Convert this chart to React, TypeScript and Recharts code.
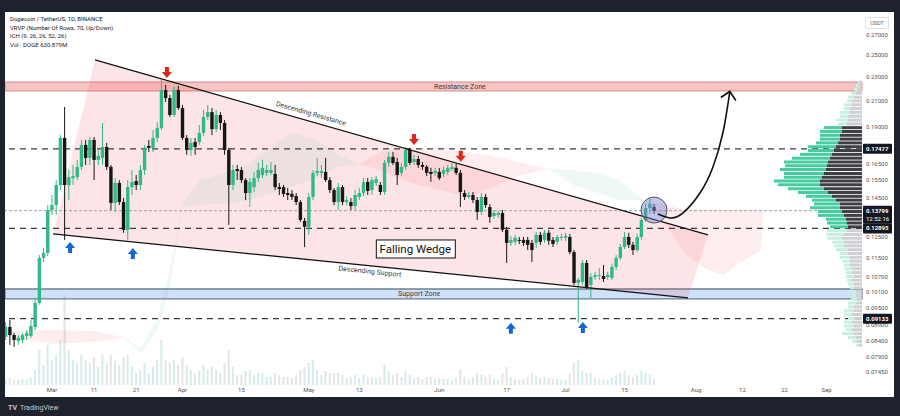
import React from 'react'
import {
  ComposedChart,
  BarChart,
  Bar,
  Cell,
  Area,
  Line,
  XAxis,
  YAxis,
  ReferenceLine,
  ReferenceArea,
  ReferenceDot,
} from 'recharts'

// days are counted from Mar 1 (day 0)
const FIRST_DAY = -11

// daily candles [open, high, low, close], DOGE/USDT
const ohlc: [number, number, number, number][] = [
  [0.0852, 0.0902, 0.0842, 0.0885], [0.0885, 0.0909, 0.0826, 0.0858], [0.0858, 0.0865, 0.082, 0.0842],
  [0.0839, 0.0858, 0.0826, 0.0849], [0.0842, 0.0865, 0.0832, 0.0858], [0.0855, 0.0875, 0.0842, 0.0865],
  [0.0855, 0.0909, 0.0849, 0.0888], [0.0885, 0.0989, 0.0875, 0.097], [0.097, 0.1165, 0.0963, 0.1152],
  [0.1152, 0.1196, 0.1134, 0.1174], [0.1174, 0.141, 0.1161, 0.1383], [0.1383, 0.1465, 0.1358, 0.141],
  [0.141, 0.1551, 0.1358, 0.1522], [0.1522, 0.1842, 0.1493, 0.1822], [0.1822, 0.2051, 0.1234, 0.1522],
  [0.1522, 0.1612, 0.1437, 0.1569], [0.1563, 0.1643, 0.1522, 0.1575], [0.1569, 0.1675, 0.1551, 0.1631],
  [0.1631, 0.1808, 0.1612, 0.1774], [0.1774, 0.1808, 0.1643, 0.1688], [0.1688, 0.1828, 0.1643, 0.1808],
  [0.1808, 0.1828, 0.1551, 0.1675], [0.1675, 0.174, 0.1643, 0.1701], [0.1688, 0.1929, 0.1643, 0.176],
  [0.176, 0.1788, 0.1612, 0.1631], [0.1631, 0.1643, 0.1383, 0.1421], [0.1421, 0.1563, 0.1373, 0.1534],
  [0.1534, 0.1551, 0.141, 0.1426], [0.1426, 0.1448, 0.1268, 0.1282], [0.1282, 0.1551, 0.1234, 0.151],
  [0.151, 0.1612, 0.1465, 0.154], [0.1545, 0.1581, 0.1493, 0.1522], [0.1522, 0.1643, 0.1493, 0.1612],
  [0.1612, 0.1774, 0.1581, 0.1754], [0.1767, 0.1808, 0.1727, 0.1754], [0.1754, 0.1878, 0.1727, 0.1822],
  [0.1822, 0.1936, 0.1794, 0.1893], [0.1893, 0.2273, 0.1878, 0.2188], [0.2188, 0.2231, 0.209, 0.2122],
  [0.2122, 0.2147, 0.1974, 0.1989], [0.1989, 0.2222, 0.1974, 0.2188], [0.2188, 0.2222, 0.2027, 0.2043],
  [0.2043, 0.2067, 0.1808, 0.1822], [0.1822, 0.1842, 0.1708, 0.174], [0.174, 0.1822, 0.1701, 0.1788],
  [0.1794, 0.1822, 0.1708, 0.176], [0.1794, 0.1915, 0.1774, 0.1857], [0.1857, 0.2027, 0.1835, 0.1974],
  [0.1974, 0.2067, 0.1951, 0.2011], [0.2011, 0.2043, 0.1842, 0.1885], [0.1885, 0.2027, 0.1864, 0.1989],
  [0.1989, 0.2011, 0.1878, 0.1929], [0.1929, 0.1951, 0.1708, 0.174], [0.174, 0.1754, 0.1307, 0.1522],
  [0.1522, 0.1643, 0.1493, 0.1612], [0.1618, 0.1643, 0.1551, 0.1606], [0.1612, 0.1631, 0.1534, 0.1551],
  [0.1551, 0.1563, 0.1437, 0.1476], [0.1476, 0.1563, 0.1399, 0.154], [0.151, 0.16, 0.1482, 0.1563],
  [0.1563, 0.1656, 0.154, 0.1612], [0.1581, 0.1675, 0.1563, 0.1625], [0.1594, 0.1643, 0.1575, 0.1612],
  [0.1594, 0.1662, 0.1581, 0.1612], [0.1588, 0.1643, 0.1493, 0.151], [0.151, 0.1534, 0.1465, 0.1499],
  [0.151, 0.1522, 0.1454, 0.1471], [0.1476, 0.1505, 0.1437, 0.1465], [0.1471, 0.1493, 0.1437, 0.1454],
  [0.1459, 0.1476, 0.141, 0.1426], [0.1426, 0.1437, 0.1322, 0.1332], [0.1327, 0.1342, 0.1201, 0.1297],
  [0.1297, 0.1476, 0.1258, 0.1454], [0.1454, 0.1612, 0.1437, 0.1594], [0.1594, 0.1688, 0.1575, 0.1606],
  [0.1594, 0.1643, 0.1563, 0.1606], [0.16, 0.1688, 0.154, 0.1551], [0.1551, 0.1569, 0.1476, 0.1493],
  [0.1493, 0.1505, 0.141, 0.1426], [0.1426, 0.1534, 0.1383, 0.151], [0.151, 0.1522, 0.141, 0.1426],
  [0.1426, 0.1459, 0.141, 0.1437], [0.1426, 0.1448, 0.1383, 0.1404], [0.1404, 0.1493, 0.1383, 0.1465],
  [0.1454, 0.1505, 0.1437, 0.1476], [0.1476, 0.1563, 0.1459, 0.154], [0.154, 0.1563, 0.1465, 0.1488],
  [0.1493, 0.1569, 0.1465, 0.1551], [0.1534, 0.1575, 0.1516, 0.1557], [0.1522, 0.154, 0.1465, 0.1482],
  [0.1482, 0.1675, 0.1465, 0.1656], [0.1656, 0.1727, 0.1631, 0.1695], [0.1695, 0.1727, 0.1643, 0.1656],
  [0.1662, 0.1688, 0.1522, 0.1581], [0.1594, 0.1656, 0.1575, 0.1631], [0.1631, 0.176, 0.1612, 0.174],
  [0.174, 0.1754, 0.1643, 0.1656], [0.1662, 0.1708, 0.1643, 0.1681], [0.1681, 0.1701, 0.1625, 0.1643],
  [0.1643, 0.1662, 0.1612, 0.1631], [0.1631, 0.1643, 0.1575, 0.1594], [0.16, 0.1625, 0.154, 0.1588],
  [0.1594, 0.1625, 0.1575, 0.1606], [0.16, 0.1625, 0.1551, 0.1563], [0.1588, 0.1631, 0.1569, 0.1612],
  [0.16, 0.1643, 0.1581, 0.1625], [0.1618, 0.1656, 0.1606, 0.1631], [0.1625, 0.165, 0.1581, 0.1594],
  [0.1594, 0.1612, 0.1399, 0.1482], [0.1476, 0.1493, 0.1437, 0.1454], [0.1454, 0.1482, 0.1443, 0.1465],
  [0.1465, 0.1482, 0.1421, 0.1437], [0.1437, 0.1454, 0.1332, 0.1373], [0.1373, 0.1476, 0.1358, 0.1454],
  [0.1454, 0.1471, 0.1394, 0.141], [0.1399, 0.1415, 0.1317, 0.1347], [0.1352, 0.1383, 0.1337, 0.1368],
  [0.1358, 0.1378, 0.1342, 0.1368], [0.1368, 0.1383, 0.1272, 0.1282], [0.1282, 0.1297, 0.113, 0.122],
  [0.122, 0.1253, 0.1206, 0.1234], [0.1225, 0.1258, 0.1211, 0.1244], [0.1234, 0.1248, 0.1215, 0.123],
  [0.1234, 0.1248, 0.1206, 0.122], [0.1234, 0.1248, 0.1187, 0.1211], [0.122, 0.1234, 0.1134, 0.1187],
  [0.122, 0.1272, 0.1196, 0.1258], [0.1258, 0.1272, 0.1211, 0.1225], [0.1234, 0.1282, 0.122, 0.1268],
  [0.1268, 0.1282, 0.1211, 0.123], [0.1234, 0.1248, 0.1201, 0.1215], [0.1225, 0.1258, 0.1211, 0.1248],
  [0.1244, 0.1263, 0.123, 0.1248], [0.1244, 0.1268, 0.123, 0.1253], [0.1248, 0.1263, 0.1168, 0.1178],
  [0.1178, 0.1187, 0.1039, 0.1047], [0.1047, 0.1067, 0.0899, 0.1059], [0.1051, 0.1143, 0.1039, 0.113],
  [0.113, 0.1143, 0.1023, 0.1031], [0.1039, 0.1087, 0.0989, 0.1071], [0.1071, 0.1092, 0.1059, 0.1079],
  [0.1075, 0.1108, 0.1059, 0.1079], [0.1075, 0.1121, 0.1051, 0.1063], [0.1071, 0.1092, 0.1059, 0.1079],
  [0.1067, 0.1126, 0.1059, 0.1113], [0.1113, 0.1165, 0.11, 0.1152], [0.1152, 0.1215, 0.1143, 0.1201],
  [0.1201, 0.1272, 0.1192, 0.1248], [0.1248, 0.1268, 0.1196, 0.1211], [0.1211, 0.1225, 0.1165, 0.1187],
  [0.1187, 0.1263, 0.1178, 0.1248], [0.1248, 0.1342, 0.1234, 0.1332], [0.1332, 0.1415, 0.1322, 0.1394],
  [0.1394, 0.1443, 0.1362, 0.1415], [0.1399, 0.1415, 0.1362, 0.138],
]

// daily volume, millions of DOGE
const volumes = [
  600, 700, 500, 500, 600, 500, 800, 1500, 3500, 2000,
  4000, 2500, 3000, 4500, 9000, 3500, 2500, 2200, 3000, 2500,
  2200, 2800, 1800, 3000, 2200, 3000, 2500, 2000, 2800, 3000,
  1800, 1200, 1500, 2200, 1200, 1800, 2500, 4500, 2500, 2200,
  2500, 2000, 2800, 2000, 1500, 1200, 1500, 2000, 1500, 1800,
  1500, 1200, 2200, 3500, 1800, 1000, 1000, 1400, 1500, 1000,
  1200, 1200, 800, 800, 1200, 1000, 800, 800, 700, 1000,
  1500, 1800, 2200, 2500, 1500, 1000, 1400, 1200, 1200, 1200,
  1000, 700, 800, 1000, 700, 1000, 800, 800, 700, 800,
  2000, 1400, 1000, 1200, 800, 1400, 1000, 700, 800, 600,
  800, 800, 600, 700, 600, 600, 500, 700, 1600, 800,
  600, 800, 1200, 1000, 800, 1000, 600, 500, 1200, 1800,
  800, 600, 500, 600, 800, 1200, 1000, 700, 800, 700,
  600, 600, 500, 500, 1200, 2200, 2500, 1400, 1200, 1200,
  700, 600, 600, 500, 800, 1000, 1200, 1400, 1000, 800,
  1000, 1400, 1200, 1000, 631,
]

// Ichimoku cloud (senkou span band)
const cloudGreen = [
  { day: 17.3, band: [0.085, 0.085] },
  { day: 21.1, band: [0.08, 0.0815] },
  { day: 25.2, band: [0.088, 0.092] },
  { day: 28.0, band: [0.103, 0.11] },
  { day: 31.1, band: [0.14, 0.142] },
  { day: 35.2, band: [0.141, 0.1551] },
  { day: 44.2, band: [0.1421, 0.1612] },
  { day: 51.1, band: [0.1465, 0.174] },
  { day: 57.0, band: [0.151, 0.1857] },
  { day: 62.9, band: [0.1563, 0.1808] },
  { day: 67.9, band: [0.1631, 0.1708] },
  { day: 72.9, band: [0.165, 0.165] },
  { day: 117.8, band: [0.162, 0.162] },
  { day: 123.8, band: [0.1522, 0.1612] },
  { day: 129.7, band: [0.1476, 0.1594] },
  { day: 134.7, band: [0.1437, 0.1551] },
  { day: 140.6, band: [0.1437, 0.1437] },
]
const cloudRed = [
  { day: -10.0, band: [0.085, 0.087] },
  { day: -0.5, band: [0.083, 0.0875] },
  { day: 10.2, band: [0.0835, 0.087] },
  { day: 17.3, band: [0.085, 0.085] },
  { day: 72.9, band: [0.165, 0.165] },
  { day: 77.9, band: [0.1612, 0.1727] },
  { day: 84.8, band: [0.1537, 0.1754] },
  { day: 91.9, band: [0.1493, 0.174] },
  { day: 98.8, band: [0.1454, 0.1727] },
  { day: 104.8, band: [0.151, 0.1701] },
  { day: 110.7, band: [0.1575, 0.1662] },
  { day: 117.8, band: [0.162, 0.162] },
  { day: 140.6, band: [0.1437, 0.1437] },
  { day: 145.6, band: [0.1308, 0.141] },
  { day: 150.6, band: [0.1168, 0.1383] },
  { day: 155.6, band: [0.11, 0.1383] },
  { day: 159.6, band: [0.108, 0.1383] },
  { day: 163.4, band: [0.113, 0.1383] },
  { day: 168.4, band: [0.1187, 0.1383] },
  { day: 168.9, band: [0.1383, 0.1383] },
]

// falling wedge trend lines
const resistanceLine = [{ day: 10.21, price: 0.2454 }, { day: 155.82, price: 0.1258 }]
const supportLine = [{ day: 0.24, price: 0.1263 }, { day: 151.07, price: 0.0989 }]
const wedgeFill = [
  { day: 0.24, band: [0.1263, 0.1263] },
  { day: 10.21, band: [0.1243, 0.2454] },
  { day: 151.07, band: [0.0989, 0.1286] },
  { day: 155.82, band: [0.1258, 0.1258] },
]

// projected move after the breakout
const arrowPath = [
  { day: 143.9, price: 0.1362 },
  { day: 146.8, price: 0.1342 },
  { day: 149.9, price: 0.1368 },
  { day: 153.9, price: 0.1476 },
  { day: 157.0, price: 0.1631 },
  { day: 159.4, price: 0.1864 },
  { day: 161.0, price: 0.2176 },
]

const levels = [0.17477, 0.12895, 0.09133]
const lastPrice = 0.13799
const resistanceZone = [0.218, 0.2256]
const supportZone = [0.0985, 0.1023]

const topMarks = [
  { day: 27.3, price: 0.2335 },
  { day: 86.0, price: 0.1808 },
  { day: 97.1, price: 0.1695 },
]
const bottomMarks = [
  { day: 4.3, price: 0.1201 },
  { day: 19.2, price: 0.1174 },
  { day: 109.0, price: 0.0882 },
  { day: 126.1, price: 0.0885 },
]
const breakout = { day: 143.0, price: 0.1383 }

const notes = [
  { day: 61.5, price: 0.1997, text: 'Descending Resistance', angle: 16 },
  { day: 75.5, price: 0.1092, text: 'Descending Support', angle: 6 },
  { day: 96.9, price: 0.2212, text: 'Resistance Zone', angle: 0 },
  { day: 87.2, price: 0.1004, text: 'Support Zone', angle: 0 },
]
const wedgeLabel = { day: 86.3, price: 0.1192, text: 'Falling Wedge' }

const DATE_TICKS = [0, 10, 20, 31, 45, 61, 73, 92, 108, 122, 136, 153, 164, 174, 184]
const DATE_LABELS = ['Mar', '11', '21', 'Apr', '15', 'May', '13', 'Jun', '17', 'Jul', '15', 'Aug', '12', '22', 'Sep']
const PRICE_TICKS = [
  0.27, 0.25, 0.23, 0.21, 0.19, 0.165, 0.155, 0.145, 0.125, 0.115, 0.107, 0.101, 0.095, 0.089,
  0.084, 0.079, 0.0745, 0.17477, 0.13799, 0.12895, 0.09133,
]

// volume profile, 70 rows from top (0.2256) to bottom (0.082)
const profileUp = [
  2, 3, 4, 5, 6, 5, 8, 6, 10, 8, 12, 9,
  18, 22, 20, 20, 22, 28, 26, 32, 38, 44, 42, 46, 40, 38, 46, 42, 36, 30, 26, 24, 26, 30, 24, 26, 20, 20, 18,
  20, 18, 15, 12, 10, 12, 8, 10, 8, 6, 8, 6, 8, 5, 6, 4, 5, 4, 6, 8, 6, 10, 8, 6, 8, 10, 6, 12, 8, 5, 3,
]
const profileDown = [
  2, 3, 4, 6, 8, 10, 10, 12, 12, 14, 14, 15,
  20, 20, 22, 22, 24, 26, 28, 30, 32, 34, 35, 36, 38, 40, 42, 42, 38, 34, 30, 26, 22, 22, 20, 18, 16, 15, 14,
  15, 18, 20, 18, 18, 14, 14, 12, 12, 12, 10, 10, 8, 10, 8, 8, 6, 6, 5, 6, 8, 8, 10, 8, 10, 8, 10, 8, 6, 5, 3,
]
const VA_FIRST = 12
const VA_LAST = 38

const X_MIN = -11.16
const X_MAX = 192.4
const P_MIN = 0.07088
const P_MAX = 0.2948

const UP = '#2fb986'
const DOWN = '#161616'
const FONT = 'Roboto, "Liberation Sans", sans-serif'

const rows = ohlc.map(([o, h, l, c], i) => ({
  day: FIRST_DAY + i,
  o,
  h,
  l,
  c,
  range: [l, h],
  vol: volumes[i] ?? 0,
}))

const profileRows = profileUp.map((up, i) => ({
  row: i,
  up,
  down: profileDown[i],
  va: i >= VA_FIRST && i <= VA_LAST,
}))

function norm(p: any) {
  let { x, y, width, height } = p
  if (height < 0) {
    y += height
    height = -height
  }
  if (width < 0) {
    x += width
    width = -width
  }
  return { x, y, width, height }
}

function Candle(props: any) {
  const { x, y, width, height } = norm(props)
  const { o, h, l, c } = props.payload
  const span = Math.log(h) - Math.log(l)
  const toY = (v: number) => (span > 0 ? y + ((Math.log(h) - Math.log(v)) / span) * height : y)
  const color = c >= o ? UP : DOWN
  const mid = x + width / 2
  const top = toY(Math.max(o, c))
  const bottom = toY(Math.min(o, c))
  return (
    <g>
      <line x1={mid} x2={mid} y1={y} y2={y + height} stroke={color} strokeWidth={1} />
      <rect x={mid - 1.7} y={top} width={3.4} height={Math.max(1, bottom - top)} fill={color} />
    </g>
  )
}

function VolumeBar(props: any) {
  const { x, y, width, height } = norm(props)
  const up = props.payload.c >= props.payload.o
  return (
    <rect
      x={x + width / 2 - 1}
      y={y}
      width={2}
      height={height}
      fill={up ? 'rgba(38,166,154,0.2)' : 'rgba(120,123,134,0.2)'}
    />
  )
}

const MARKED: Record<string, string[]> = {
  '0.17477': ['0.17477'],
  '0.13799': ['0.13799', '12:52:16'],
  '0.12895': ['0.12895'],
  '0.09133': ['0.09133'],
}

function PriceTick(props: any) {
  const { x, y, payload } = props
  const label = Number(payload.value).toFixed(5)
  const box = MARKED[label]
  if (box) {
    return (
      <g>
        <rect x={x + 1} y={y - 5} width={29} height={box.length * 8 + 2} fill="#131722" rx={1} />
        {box.map((t, i) => (
          <text
            key={t}
            x={x + 4}
            y={y + 2 + i * 8}
            fontSize={6}
            fontWeight={i === 0 ? 700 : 400}
            fill="#fff"
            fontFamily={FONT}
          >
            {t}
          </text>
        ))}
      </g>
    )
  }
  return (
    <text x={x + 4} y={y + 2} fontSize={6} fill="#555" fontFamily={FONT}>
      {label}
    </text>
  )
}

function DownArrow(p: any) {
  const { cx, cy } = p
  return <path d={`M${cx - 2},${cy - 6} h4 v5 h3 l-5,6 l-5,-6 h3 z`} fill="#e2231a" />
}

function UpArrow(p: any) {
  const { cx, cy } = p
  return <path d={`M${cx - 2},${cy + 6} h4 v-5 h3 l-5,-6 l-5,6 h3 z`} fill="#1565d8" />
}

function noteShape(text: string, angle: number) {
  return (p: any) => (
    <text
      x={p.cx}
      y={p.cy}
      textAnchor="middle"
      dominantBaseline="middle"
      fontSize={7}
      fill="#3a3a3a"
      fontFamily={FONT}
      transform={`rotate(${angle} ${p.cx} ${p.cy})`}
    >
      {text}
    </text>
  )
}

function WedgeBox(p: any) {
  return (
    <g>
      <rect x={p.cx - 39} y={p.cy - 9} width={79} height={18} fill="#fff" stroke="#111" strokeWidth={1} />
      <text
        x={p.cx}
        y={p.cy + 1}
        textAnchor="middle"
        dominantBaseline="middle"
        fontSize={11.5}
        fill="#111"
        fontFamily={FONT}
      >
        {wedgeLabel.text}
      </text>
    </g>
  )
}

function ArrowTip(p: any) {
  if (p.index !== arrowPath.length - 1) return <g key={p.index} />
  return (
    <path
      key="tip"
      d={`M${p.cx - 9},${p.cy + 6} L${p.cx},${p.cy} L${p.cx + 6},${p.cy + 9}`}
      stroke="#111"
      strokeWidth={1.6}
      fill="none"
    />
  )
}

const legendLines = [
  'Dogecoin / TetherUS, 1D, BINANCE',
  'VRVP (Number Of Rows, 70, Up/Down)',
  'ICH (9, 26, 26, 52, 26)',
  'Vol · DOGE  630.879M',
]

export default function App() {
  return (
    <div
      style={{
        position: 'absolute',
        left: 0,
        top: 0,
        width: 900,
        height: 416,
        background: '#1e222d',
        overflow: 'hidden',
        fontFamily: FONT,
      }}
    >
      <div style={{ position: 'absolute', left: 5, top: 12, width: 889, height: 385, background: '#fff' }}>
        <ComposedChart width={889} height={385} data={rows} margin={{ top: 0, right: 0, bottom: 0, left: 0 }}>
          <XAxis
            dataKey="day"
            type="number"
            domain={[X_MIN, X_MAX]}
            allowDataOverflow
            ticks={DATE_TICKS}
            interval={0}
            tickFormatter={(d: number) => DATE_LABELS[DATE_TICKS.indexOf(d)] ?? ''}
            height={12}
            tickLine={false}
            axisLine={false}
            tickSize={0}
            tickMargin={3}
            tick={{ fontSize: 6, fill: '#555', fontFamily: FONT }}
          />
          <XAxis xAxisId="v" dataKey="day" type="number" domain={[X_MIN, X_MAX]} allowDataOverflow hide />
          <YAxis
            type="number"
            scale="log"
            domain={[P_MIN, P_MAX]}
            allowDataOverflow
            orientation="right"
            width={32}
            ticks={PRICE_TICKS}
            interval={0}
            tickLine={false}
            axisLine={false}
            tickSize={0}
            tickMargin={0}
            tick={(p: any) => <PriceTick {...p} />}
          />
          <YAxis yAxisId="vol" type="number" domain={[0, 37300]} hide />

          <ReferenceArea
            y1={resistanceZone[0]}
            y2={resistanceZone[1]}
            fill="rgba(236,90,90,0.35)"
            fillOpacity={1}
            stroke="#d08a8a"
            strokeWidth={1}
            zIndex={-50}
          />
          <ReferenceArea
            y1={supportZone[0]}
            y2={supportZone[1]}
            fill="#cfe1f8"
            fillOpacity={1}
            stroke="#6f7d8f"
            strokeWidth={1.3}
            zIndex={-50}
          />

          <Area
            data={wedgeFill}
            dataKey="band"
            type="linear"
            fill="rgba(242,54,69,0.13)"
            fillOpacity={1}
            stroke="none"
            connectNulls
            isAnimationActive={false}
            activeDot={false}
            zIndex={-40}
          />
          <Area
            data={cloudGreen}
            dataKey="band"
            type="linear"
            fill="rgba(38,166,154,0.08)"
            fillOpacity={1}
            stroke="none"
            isAnimationActive={false}
            activeDot={false}
            zIndex={-30}
          />
          <Area
            data={cloudRed}
            dataKey="band"
            type="linear"
            fill="rgba(242,54,69,0.09)"
            fillOpacity={1}
            stroke="none"
            isAnimationActive={false}
            activeDot={false}
            zIndex={-30}
          />

          <Bar
            dataKey="vol"
            xAxisId="v"
            yAxisId="vol"
            barSize={2}
            shape={VolumeBar}
            isAnimationActive={false}
            zIndex={-20}
          />

          {levels.map((v) => (
            <ReferenceLine
              key={v}
              y={v}
              stroke="#3a3a3a"
              strokeWidth={1.3}
              strokeDasharray="6 5"
              zIndex={-10}
            />
          ))}
          <ReferenceLine y={lastPrice} stroke="#a0a0a0" strokeWidth={1} strokeDasharray="3 2" zIndex={-10} />

          <Bar dataKey="range" barSize={3} shape={Candle} isAnimationActive={false} zIndex={400} />

          <ReferenceLine
            segment={[
              { x: resistanceLine[0].day, y: resistanceLine[0].price },
              { x: resistanceLine[1].day, y: resistanceLine[1].price },
            ]}
            stroke="#111"
            strokeWidth={1.3}
            ifOverflow="visible"
            zIndex={500}
          />
          <ReferenceLine
            segment={[
              { x: supportLine[0].day, y: supportLine[0].price },
              { x: supportLine[1].day, y: supportLine[1].price },
            ]}
            stroke="#111"
            strokeWidth={1.3}
            ifOverflow="visible"
            zIndex={500}
          />

          <ReferenceDot
            x={breakout.day}
            y={breakout.price}
            r={13}
            fill="rgba(120,130,210,0.45)"
            stroke="#555"
            strokeWidth={1}
            zIndex={600}
          />
          <Line
            data={arrowPath}
            dataKey="price"
            type="natural"
            stroke="#111"
            strokeWidth={1.6}
            dot={ArrowTip}
            activeDot={false}
            isAnimationActive={false}
            zIndex={600}
          />

          {topMarks.map((m) => (
            <ReferenceDot key={m.day} x={m.day} y={m.price} r={0} shape={DownArrow} zIndex={700} />
          ))}
          {bottomMarks.map((m) => (
            <ReferenceDot key={m.day} x={m.day} y={m.price} r={0} shape={UpArrow} zIndex={700} />
          ))}
          {notes.map((n) => (
            <ReferenceDot
              key={n.text}
              x={n.day}
              y={n.price}
              r={0}
              shape={noteShape(n.text, n.angle)}
              zIndex={700}
            />
          ))}
          <ReferenceDot x={wedgeLabel.day} y={wedgeLabel.price} r={0} shape={WedgeBox} zIndex={700} />
        </ComposedChart>

        <div style={{ position: 'absolute', left: 635, top: 68 }}>
          <BarChart
            width={222}
            height={267}
            data={profileRows}
            layout="vertical"
            barCategoryGap="10%"
            margin={{ top: 0, right: 0, bottom: 0, left: 0 }}
          >
            <XAxis type="number" domain={[0, 222]} reversed hide />
            <YAxis type="category" dataKey="row" hide />
            <Bar dataKey="down" stackId="vp" isAnimationActive={false}>
              {profileRows.map((r) => (
                <Cell key={r.row} fill={r.va ? '#3d3f45' : '#cfd0d4'} />
              ))}
            </Bar>
            <Bar dataKey="up" stackId="vp" isAnimationActive={false}>
              {profileRows.map((r) => (
                <Cell key={r.row} fill={r.va ? '#45cc9f' : '#c9efe2'} />
              ))}
            </Bar>
          </BarChart>
        </div>

        <div style={{ position: 'absolute', left: 5, top: 3, fontSize: 6, lineHeight: '8.5px', color: '#222' }}>
          {legendLines.map((t) => (
            <div key={t}>{t}</div>
          ))}
        </div>
        <div
          style={{
            position: 'absolute',
            left: 860,
            top: 5,
            width: 22,
            height: 10,
            border: '1px solid #e0e3eb',
            fontSize: 5.5,
            lineHeight: '10px',
            textAlign: 'center',
            color: '#666',
          }}
        >
          USDT
        </div>
      </div>
      <div
        style={{
          position: 'absolute',
          left: 8,
          top: 403,
          fontSize: 7,
          color: '#c8cbd3',
          lineHeight: '10px',
        }}
      >
        <b style={{ marginRight: 3 }}>TV</b>TradingView
      </div>
    </div>
  )
}
